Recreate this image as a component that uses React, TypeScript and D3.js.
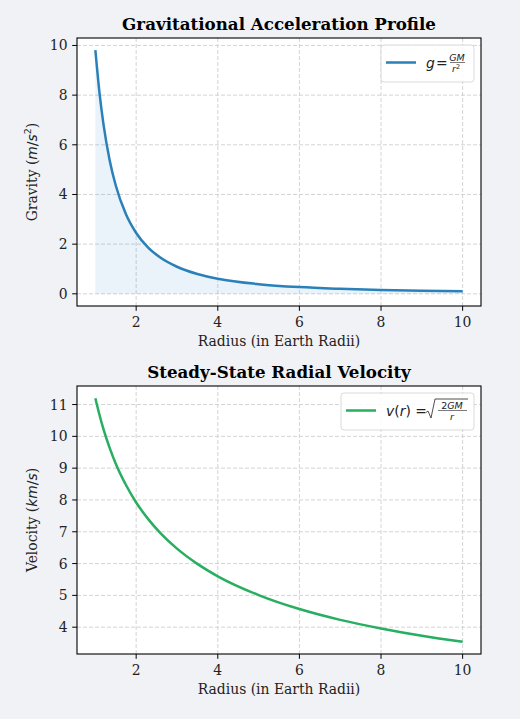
import * as d3 from 'd3';

// Radius samples (Earth radii) and values
const radii = [1, 1.1, 1.2, 1.35, 1.5, 1.75, 2, 2.3, 2.6, 3, 3.5, 4, 5, 6, 7, 8, 9, 10];
const gravity = [9.81, 8.11, 6.81, 5.38, 4.36, 3.2, 2.45, 1.85, 1.45, 1.09, 0.8, 0.61, 0.39, 0.27, 0.2, 0.15, 0.12, 0.1];
const velocity = [11.2, 10.68, 10.22, 9.64, 9.14, 8.47, 7.92, 7.39, 6.95, 6.47, 5.99, 5.6, 5.01, 4.57, 4.23, 3.96, 3.73, 3.54];

const xTicks = [2, 4, 6, 8, 10];
const gTicks = [0, 2, 4, 6, 8, 10];
const vTicks = [4, 5, 6, 7, 8, 9, 10, 11];

const W = 520;
const H = 719;
const AX = { left: 77, width: 404, height: 268 };
const SERIF = '"DejaVu Serif", serif';
const SANS = '"DejaVu Sans", sans-serif';
const FS = 13.9;

interface PanelProps {
  top: number;
  title: string;
  values: number[];
  yTicks: number[];
  color: string;
  fill: boolean;
  yLabel: React.ReactNode;
  legendW: number;
  legend: (x: number, y: number) => React.ReactNode;
}

function Panel({ top, title, values, yTicks, color, fill, yLabel, legendW, legend }: PanelProps) {
  const xMin = d3.min(radii)!;
  const xMax = d3.max(radii)!;
  const yMin = fill ? 0 : d3.min(values)!;
  const yMax = d3.max(values)!;
  const xm = (xMax - xMin) * 0.05;
  const ym = (yMax - yMin) * 0.05;
  const x = d3.scaleLinear().domain([xMin - xm, xMax + xm]).range([AX.left, AX.left + AX.width]);
  const y = d3.scaleLinear().domain([yMin - ym, yMax + ym]).range([top + AX.height, top]);
  const pts = radii.map((r, i) => [r, values[i]] as [number, number]);

  const line = d3
    .line<[number, number]>()
    .x((d) => x(d[0]))
    .y((d) => y(d[1]))
    .curve(d3.curveMonotoneX);
  const area = d3
    .area<[number, number]>()
    .x((d) => x(d[0]))
    .y0(y(0))
    .y1((d) => y(d[1]))
    .curve(d3.curveMonotoneX);

  const right = AX.left + AX.width;
  const bottom = top + AX.height;
  const lx = right - 7 - legendW;
  const ly = top + 7;

  return (
    <g>
      <rect x={AX.left} y={top} width={AX.width} height={AX.height} fill="#fff" />
      {/* grid */}
      <g stroke="#cfcfcf" strokeWidth={0.9} strokeDasharray="4,2">
        {xTicks.map((t) => (
          <line key={'gx' + t} x1={x(t)} x2={x(t)} y1={top} y2={bottom} />
        ))}
        {yTicks.map((t) => (
          <line key={'gy' + t} x1={AX.left} x2={right} y1={y(t)} y2={y(t)} />
        ))}
      </g>
      {fill && <path d={area(pts)!} fill="#3a8fc8" fillOpacity={0.11} />}
      <path d={line(pts)!} fill="none" stroke={color} strokeWidth={2.5} />
      {/* frame */}
      <rect x={AX.left} y={top} width={AX.width} height={AX.height} fill="none" stroke="#000" strokeWidth={1.1} />
      {/* x ticks */}
      {xTicks.map((t) => (
        <g key={'xt' + t}>
          <line x1={x(t)} x2={x(t)} y1={bottom} y2={bottom + 4.8} stroke="#000" strokeWidth={1} />
          <text x={x(t)} y={bottom + 21} textAnchor="middle" fontFamily={SERIF} fontSize={FS} fill="#222">
            {t}
          </text>
        </g>
      ))}
      {yTicks.map((t) => (
        <g key={'yt' + t}>
          <line x1={AX.left - 4.8} x2={AX.left} y1={y(t)} y2={y(t)} stroke="#000" strokeWidth={1} />
          <text x={AX.left - 9.5} y={y(t) + 5} textAnchor="end" fontFamily={SERIF} fontSize={FS} fill="#222">
            {t}
          </text>
        </g>
      ))}
      <text x={AX.left + AX.width / 2} y={top - 8} textAnchor="middle" fontFamily={SERIF} fontSize={16.7} fontWeight="bold" fill="#000">
        {title}
      </text>
      <text x={AX.left + AX.width / 2} y={bottom + 39.5} textAnchor="middle" fontFamily={SERIF} fontSize={FS} fill="#222">
        Radius (in Earth Radii)
      </text>
      <text
        transform={`translate(37,${top + AX.height / 2}) rotate(-90)`}
        textAnchor="middle"
        fontFamily={SERIF}
        fontSize={FS}
        fill="#222"
      >
        {yLabel}
      </text>
      {/* legend */}
      <rect x={lx} y={ly} width={legendW} height={37} rx={3} fill="#fff" fillOpacity={0.85} stroke="#d0d0d0" strokeWidth={0.8} />
      <line x1={lx + 5} x2={lx + 35} y1={ly + 17.5} y2={ly + 17.5} stroke={color} strokeWidth={2.5} />
      {legend(lx + 45, ly + 17.5)}
    </g>
  );
}

function GravityLegend(x: number, y: number) {
  return (
    <g fontFamily={SANS} fill="#222">
      <text x={x} y={y + 5} fontSize={FS} fontStyle="italic">g</text>
      <text x={x + 10} y={y + 5} fontSize={FS}>=</text>
      <text x={x + 31} y={y - 2} fontSize={9.5} fontStyle="italic" textAnchor="middle">GM</text>
      <line x1={x + 24} x2={x + 39} y1={y} y2={y} stroke="#222" strokeWidth={0.6} />
      <text x={x + 30} y={y + 9.5} fontSize={9.5} fontStyle="italic" textAnchor="middle">
        r<tspan fontSize={6.5} dy={-3.5} fontStyle="normal">2</tspan>
      </text>
    </g>
  );
}

function VelocityLegend(x: number, y: number) {
  return (
    <g fontFamily={SANS} fill="#222">
      <text x={x} y={y + 5} fontSize={FS}>
        <tspan fontStyle="italic">v</tspan>(<tspan fontStyle="italic">r</tspan>) =
      </text>
      <path
        d={`M${x + 40},${y + 2} l2,-1.5 l3,7 l4,-19 h33`}
        fill="none"
        stroke="#222"
        strokeWidth={0.8}
      />
      <text x={x + 66} y={y - 2} fontSize={9.5} textAnchor="middle">2<tspan fontStyle="italic">GM</tspan></text>
      <line x1={x + 52} x2={x + 81} y1={y} y2={y} stroke="#222" strokeWidth={0.6} />
      <text x={x + 66} y={y + 9.5} fontSize={9.5} fontStyle="italic" textAnchor="middle">r</text>
    </g>
  );
}

export default function App() {
  return (
    <svg
      width={W}
      height={H}
      viewBox={`0 0 ${W} ${H}`}
      style={{ position: 'absolute', left: 0, top: 0, display: 'block' }}
    >
      <rect width={W} height={H} fill="#f0f2f6" />
      <Panel
        top={38}
        title="Gravitational Acceleration Profile"
        values={gravity}
        yTicks={gTicks}
        color="#2a80b9"
        fill
        yLabel={
          <>
            Gravity (<tspan fontStyle="italic" fontFamily={SANS}>m</tspan>
            <tspan fontFamily={SANS}>/</tspan>
            <tspan fontStyle="italic" fontFamily={SANS}>s</tspan>
            <tspan fontSize={9.5} dy={-6} fontFamily={SANS}>2</tspan>
            <tspan dy={6}>)</tspan>
          </>
        }
        legendW={93}
        legend={GravityLegend}
      />
      <Panel
        top={386}
        title="Steady-State Radial Velocity"
        values={velocity}
        yTicks={vTicks}
        color="#27ae60"
        fill={false}
        yLabel={
          <>
            Velocity (<tspan fontStyle="italic" fontFamily={SANS}>km</tspan>
            <tspan fontFamily={SANS}>/</tspan>
            <tspan fontStyle="italic" fontFamily={SANS}>s</tspan>)
          </>
        }
        legendW={133}
        legend={VelocityLegend}
      />
    </svg>
  );
}
